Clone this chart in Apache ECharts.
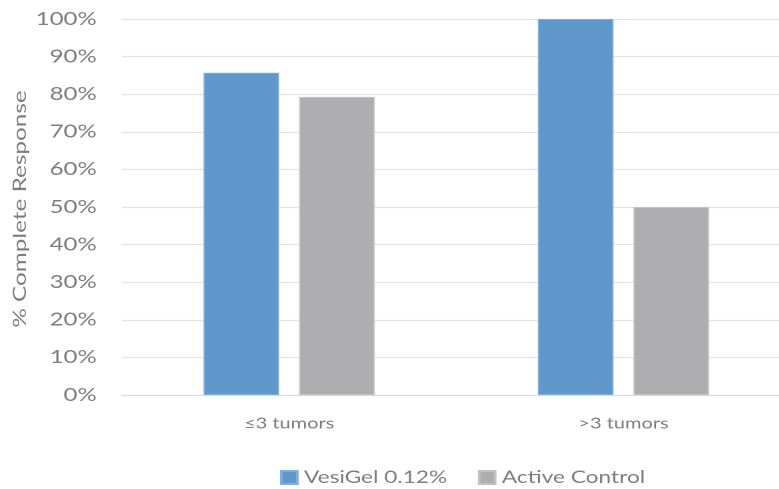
<!DOCTYPE html>
<html>
<head>
<meta charset="utf-8">
<script src="https://cdn.jsdelivr.net/npm/echarts@6/dist/echarts.min.js"></script>
<style>
  html, body { margin: 0; padding: 0; background: #fff; overflow: hidden; width: 779px; height: 489px; }
  /* the source picture is stretched sideways, so the chart is drawn narrower and widened */
  #main { width: 593px; height: 489px; transform: scaleX(1.3333); transform-origin: 0 0; }
</style>
</head>
<body>
<div id="main"></div>
<script>
// data
var categories = ['≤3 tumors', '>3 tumors'];
var vesigel = [85.7, 100];
var activeControl = [79.3, 50];
var seriesNames = ['VesiGel 0.12%', 'Active Control'];
var yTitle = '% Complete Response';

var chart = echarts.init(document.getElementById('main'), null, { devicePixelRatio: 2 });
var labelFont = 'Lato, "Open Sans", sans-serif';
var textColor = '#7d7d7d';

var option = {
  animation: false,
  grid: { left: 91.5, top: 19, right: 0, height: 376 },
  legend: {
    data: seriesNames,
    top: 464,
    left: 205,
    itemWidth: 12,
    itemHeight: 13,
    itemGap: 23,
    icon: 'rect',
    textStyle: { color: textColor, fontSize: 17, fontFamily: labelFont }
  },
  // y title drawn by hand so it keeps its long, thin shape after the sideways stretch
  graphic: [{
    type: 'text',
    x: 15,
    y: 209,
    rotation: Math.PI / 2,
    scaleX: 1.8,
    style: {
      text: yTitle,
      fill: textColor,
      font: '13.5px Lato, "Open Sans", sans-serif',
      textAlign: 'center',
      textVerticalAlign: 'middle'
    }
  }],
  xAxis: {
    type: 'category',
    data: categories,
    axisLine: { lineStyle: { color: '#d9d9d9', width: 1 } },
    axisTick: { show: false },
    axisLabel: { color: textColor, fontSize: 15, fontFamily: labelFont, margin: 21 }
  },
  yAxis: {
    type: 'value',
    min: 0,
    max: 100,
    interval: 10,
    axisLine: { show: false },
    axisTick: { show: false },
    axisLabel: {
      color: textColor, fontSize: 18, fontFamily: labelFont, margin: 19,
      formatter: function (v) { return v + '%'; }
    },
    splitLine: { lineStyle: { color: '#e3e3e3', width: 1.3 } }
  },
  series: [
    {
      name: seriesNames[0],
      type: 'bar',
      data: vesigel,
      barWidth: '22.6%',
      barGap: '26.5%',
      itemStyle: { color: '#6098cc', borderColor: '#7eaed9', borderWidth: 1 }
    },
    {
      name: seriesNames[1],
      type: 'bar',
      data: activeControl,
      barWidth: '22.6%',
      barGap: '26.5%',
      itemStyle: { color: '#aeaeb1', borderColor: '#c2c2c4', borderWidth: 1 }
    }
  ]
};

chart.setOption(option);
</script>
</body>
</html>
